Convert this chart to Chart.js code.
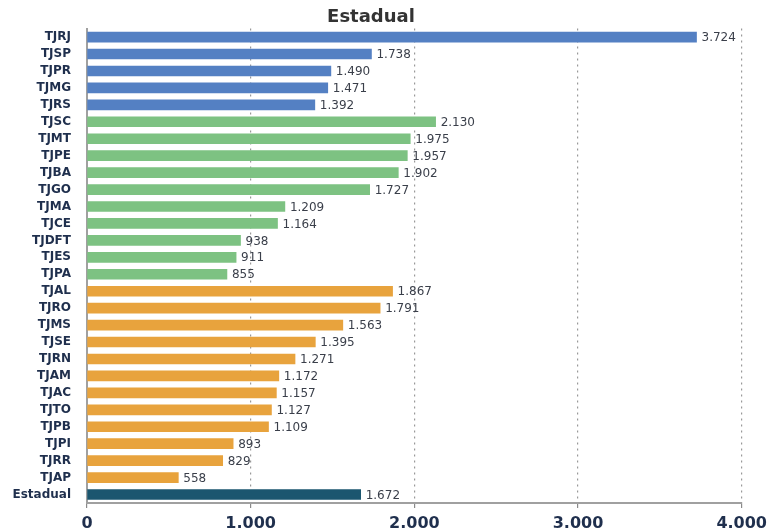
<!DOCTYPE html>
<html>
<head>
<meta charset="utf-8">
<script src="https://cdn.jsdelivr.net/npm/chart.js@4"></script>
<style>
  html, body { margin: 0; padding: 0; background: #fff; }
  #wrap { width: 773px; height: 529px; }
</style>
</head>
<body>
<div id="wrap"><canvas id="myChart"></canvas></div>
<script>
var tribunais = ["TJRJ", "TJSP", "TJPR", "TJMG", "TJRS",
  "TJSC", "TJMT", "TJPE", "TJBA", "TJGO", "TJMA", "TJCE", "TJDFT", "TJES", "TJPA",
  "TJAL", "TJRO", "TJMS", "TJSE", "TJRN", "TJAM", "TJAC", "TJTO", "TJPB", "TJPI", "TJRR", "TJAP",
  "Estadual"];
var valores = [3724, 1738, 1490, 1471, 1392,
  2130, 1975, 1957, 1902, 1727, 1209, 1164, 938, 911, 855,
  1867, 1791, 1563, 1395, 1271, 1172, 1157, 1127, 1109, 893, 829, 558,
  1672];
// porte: grande, medio, pequeno, total
var porte = ["g", "g", "g", "g", "g",
  "m", "m", "m", "m", "m", "m", "m", "m", "m", "m",
  "p", "p", "p", "p", "p", "p", "p", "p", "p", "p", "p", "p",
  "t"];
var xTicks = [0, 1000, 2000, 3000, 4000];

var cores = { g: "#5480c3", m: "#7dc282", p: "#e8a33d", t: "#1b566f" };

function fmt(v) {
  return v.toString().replace(/\B(?=(\d{3})+(?!\d))/g, ".");
}

var rotulos = {
  id: 'rotulos',
  afterDatasetsDraw: function(chart) {
    var ctx = chart.ctx;
    var meta = chart.getDatasetMeta(0);
    ctx.save();
    ctx.font = "12px 'DejaVu Sans'";
    ctx.fillStyle = "#3a3f4a";
    ctx.textBaseline = "middle";
    ctx.textAlign = "left";
    meta.data.forEach(function(bar, i) {
      ctx.fillText(fmt(valores[i]), bar.x + 5, bar.y + 1);
    });
    ctx.restore();
  }
};

var ctx = document.getElementById('myChart').getContext('2d');
var myChart = new Chart(ctx, {
  type: 'bar',
  data: {
    labels: tribunais,
    datasets: [{
      data: valores,
      backgroundColor: porte.map(function(p) { return cores[p]; }),
      barThickness: 10
    }]
  },
  plugins: [rotulos],
  options: {
    indexAxis: 'y',
    responsive: true,
    maintainAspectRatio: false,
    animation: false,
    layout: { padding: { left: 0, right: 31, top: 0, bottom: 0 } },
    scales: {
      x: {
        min: 0,
        max: 4000,
        afterBuildTicks: function(scale) {
          scale.ticks = xTicks.map(function(v) { return { value: v }; });
        },
        afterFit: function(scale) { scale.height = 26; },
        ticks: {
          callback: function(v) { return fmt(v); },
          font: { family: "DejaVu Sans", weight: "bold", size: 16 },
          color: "#1f2f4d",
          padding: 6,
          maxRotation: 0
        },
        grid: {
          color: function(c) { return c.tick && c.tick.value === 0 ? "rgba(0,0,0,0)" : "#999999"; },
          tickColor: "#8a8a8a",
          lineWidth: 1.2,
          drawTicks: true,
          tickLength: 5,
          tickBorderDash: []
        },
        border: { display: true, color: "#a0a0a0", width: 2, dash: [2, 4] }
      },
      y: {
        afterFit: function(scale) { scale.width = 87; },
        ticks: {
          font: { family: "DejaVu Sans", weight: "bold", size: 12 },
          color: "#1f2f4d",
          padding: 8,
          autoSkip: false
        },
        grid: { display: false },
        border: { display: true, color: "#a0a0a0", width: 2 }
      }
    },
    plugins: {
      legend: { display: false },
      tooltip: { enabled: false },
      title: {
        display: true,
        text: "Estadual",
        font: { family: "DejaVu Sans", weight: "bold", size: 18 },
        color: "#333333",
        padding: { top: 7, bottom: 0 }
      }
    }
  }
});
</script>
</body>
</html>
